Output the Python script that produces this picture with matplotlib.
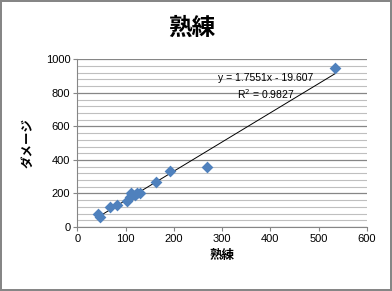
import matplotlib
matplotlib.use("Agg")
import matplotlib.pyplot as plt
import numpy as np

plt.rcParams['font.family'] = ['Noto Sans CJK JP', 'DejaVu Sans']

# data
skill = [42, 47, 68, 82, 104, 109, 112, 120, 124, 130, 163, 193, 268, 533]
damage = [75, 62, 121, 131, 157, 177, 201, 191, 205, 201, 266, 336, 356, 950]

title = "熟練"
xlabel = "熟練"
ylabel = "ダメージ"
eq_text = "y = 1.7551x - 19.607"
r2_text = "R$^2$ = 0.9827"

fig = plt.figure(figsize=(3.92, 2.91), dpi=100)
fig.patch.set_edgecolor("#868686")
fig.patch.set_linewidth(1.5)
ax = fig.add_axes([0.197, 0.22, 0.739, 0.576])

ax.set_xlim(0, 600)
ax.set_ylim(0, 1000)
ax.set_xticks(range(0, 601, 100))
ax.set_yticks(range(0, 1001, 200))
ax.set_yticks(range(0, 1001, 40), minor=True)
ax.grid(axis="y", which="major", color="#868686", linewidth=0.9)
ax.grid(axis="y", which="minor", color="#BFBFBF", linewidth=0.8)
ax.set_axisbelow(True)

for s in ["top", "right"]:
    ax.spines[s].set_visible(False)
for s in ["left", "bottom"]:
    ax.spines[s].set_color("#868686")
ax.tick_params(which="major", direction="out", length=3, color="#868686",
               labelsize=8, labelcolor="#000000", pad=2)
ax.tick_params(which="minor", length=0)
for lab in ax.get_xticklabels() + ax.get_yticklabels():
    lab.set_family(["Liberation Sans", "DejaVu Sans"])

# trend line
coef = np.polyfit(skill, damage, 1)
xs = np.array([min(skill), max(skill)])
ax.plot(xs, np.polyval(coef, xs), color="black", linewidth=0.7, zorder=2)

ax.scatter(skill, damage, marker="D", s=36, color="#4F81BD", zorder=3,
           linewidths=0)

ax.text(391, 888, eq_text, fontsize=7.5, ha="center", va="center",
        family=["Liberation Sans", "DejaVu Sans"])
ax.text(391, 793, r2_text, fontsize=7.5, ha="center", va="center",
        family=["Liberation Sans", "DejaVu Sans"])

fig.text(0.49, 0.905, title, fontsize=17, fontweight="bold", ha="center", va="center")
ax.set_xlabel(xlabel, fontsize=9, fontweight="bold", labelpad=4)
ax.set_ylabel(ylabel, fontsize=9, fontweight="bold", labelpad=8)

fig.savefig("out.png", dpi=100)
